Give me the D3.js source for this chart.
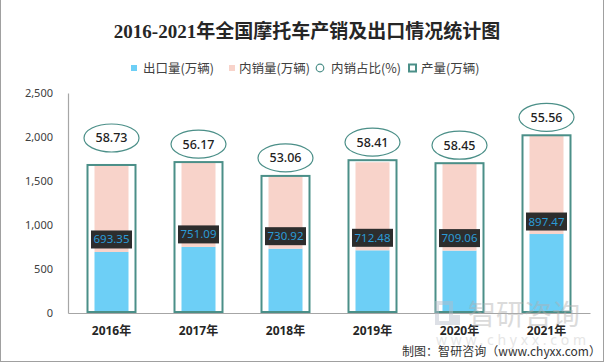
<!DOCTYPE html>
<html><head><meta charset="utf-8">
<script src="https://cdn.jsdelivr.net/npm/d3@7"></script>
<style>
html,body{margin:0;padding:0;background:#fff;}
svg{display:block;}
</style>
</head><body>
<div id="chart"></div>
<script>
const years = ["2016年","2017年","2018年","2019年","2020年","2021年"];
const exportVals = [693.35, 751.09, 730.92, 712.48, 709.06, 897.47];
const domesticVals = [986.69, 962.47, 826.13, 1000.60, 997.66, 1122.06];
const domesticShare = [58.73, 56.17, 53.06, 58.41, 58.45, 55.56];
const productionVals = [1682.07, 1715.00, 1557.75, 1736.50, 1702.35, 2019.47];
const yTicks = [0, 500, 1000, 1500, 2000, 2500];
const legendNames = ["出口量(万辆)", "内销量(万辆)", "内销占比(%)", "产量(万辆)"];

const W = 605, H = 364;
const C = {blue:"#6dcff6", pink:"#f8d3ca", teal:"#4b8f88", axis:"#a6a6a6", text:"#404040"};
const svg = d3.select("#chart").append("svg").attr("width", W).attr("height", H);

// frame
svg.append("rect").attr("x",0.5).attr("y",-2).attr("width",W-2).attr("height",H-0.5)
  .attr("fill","none").attr("stroke","#a0a0a0").attr("stroke-width",1);

// title
svg.append("text").attr("x",307).attr("y",38).attr("text-anchor","middle")
  .attr("font-family","'Liberation Serif','Noto Sans CJK SC',serif").attr("font-weight","bold")
  .attr("font-size",19).attr("fill","#262626").text("2016-2021年全国摩托车产销及出口情况统计图");

const x = d3.scaleBand().domain(years).range([68, 590]).padding(0);
const y = d3.scaleLinear().domain([0, 2500]).range([313, 93]);

// axes
const yAxis = d3.axisLeft(y).tickValues(yTicks).tickSize(0).tickPadding(15).tickFormat(d3.format(","));
const gy = svg.append("g").attr("transform","translate(68,0)").call(yAxis);
gy.select(".domain").attr("stroke",C.axis).attr("stroke-width",1.2);
gy.selectAll("text").attr("font-family","'Noto Sans',sans-serif").attr("font-size",11).attr("fill",C.text);

const xAxis = d3.axisBottom(x).tickSize(0).tickPadding(13);
const gx = svg.append("g").attr("transform","translate(0,313)").call(xAxis);
gx.select(".domain").attr("stroke",C.axis).attr("stroke-width",1.2);
gx.selectAll("text").attr("font-family","'Noto Sans','Noto Sans CJK SC',sans-serif").attr("font-weight","bold")
  .attr("font-size",12).attr("fill","#262626");

const outerW = 48, innerW = 34;
const g = svg.append("g");
// stacked bars
years.forEach((yr, i) => {
  const cx = x(yr) + x.bandwidth()/2;
  g.append("rect").attr("x",cx-innerW/2).attr("y",y(exportVals[i])).attr("width",innerW)
    .attr("height",y(0)-y(exportVals[i])).attr("fill",C.blue);
  g.append("rect").attr("x",cx-innerW/2).attr("y",y(exportVals[i]+domesticVals[i])).attr("width",innerW)
    .attr("height",y(exportVals[i])-y(exportVals[i]+domesticVals[i])).attr("fill",C.pink);
  g.append("rect").attr("x",cx-outerW/2).attr("y",y(productionVals[i])).attr("width",outerW)
    .attr("height",y(0)-y(productionVals[i])-1).attr("fill","none").attr("stroke",C.teal).attr("stroke-width",2);
});

// export labels
years.forEach((yr, i) => {
  const cx = x(yr) + x.bandwidth()/2;
  const by = y(exportVals[i]) - 3.5;
  g.append("rect").attr("x",cx-20.5).attr("y",by-18).attr("width",41).attr("height",18).attr("fill","#2d2d2d");
  g.append("text").attr("x",cx).attr("y",by-5).attr("text-anchor","middle")
    .attr("font-family","'Noto Sans',sans-serif").attr("font-size",11.5).attr("fill","#2b9bd6")
    .text(exportVals[i].toFixed(2));
});

// share labels (ellipses)
years.forEach((yr, i) => {
  const cx = x(yr) + x.bandwidth()/2;
  const lift = i === 0 ? 27 : 18;
  const cy = y(productionVals[i]) - lift;
  g.append("ellipse").attr("cx",cx).attr("cy",cy).attr("rx",27.5).attr("ry",14)
    .attr("fill","#fff").attr("stroke",C.teal).attr("stroke-width",1.2);
  g.append("text").attr("x",cx).attr("y",cy+4.5).attr("text-anchor","middle")
    .attr("font-family","'Noto Sans',sans-serif").attr("font-size",12.5).attr("font-weight",500).attr("fill","#222")
    .text(domesticShare[i].toFixed(2));
});

// watermark (semi-transparent, on top like the reference)
const wm = svg.append("g").attr("opacity",0.45);
wm.append("rect").attr("x",437).attr("y",303).attr("width",14).attr("height",20).attr("fill","none").attr("stroke","#b5bcc8").attr("stroke-width",4);
wm.append("rect").attr("x",452).attr("y",315).attr("width",8).attr("height",10).attr("fill","#b5bcc8");
wm.append("text").attr("x",468).attr("y",325).attr("font-family","'Noto Sans CJK SC'").attr("font-size",28)
  .attr("fill","#b0b0b0").text("智研咨询");
wm.append("text").attr("x",436).attr("y",345).attr("font-family","'Noto Sans',sans-serif").attr("font-size",14)
  .attr("fill","#c8c8c8").attr("textLength",150).text("www.chyxx.com");

// legend
const lg = svg.append("g").attr("font-family","'Noto Sans CJK SC',sans-serif").attr("font-size",12.5).attr("fill",C.text);
const ly = 68;
lg.append("rect").attr("x",131).attr("y",ly-3).attr("width",6).attr("height",6).attr("fill",C.blue);
lg.append("text").attr("x",143).attr("y",ly+4.5).text(legendNames[0]);
lg.append("rect").attr("x",229).attr("y",ly-3).attr("width",6).attr("height",6).attr("fill",C.pink);
lg.append("text").attr("x",239).attr("y",ly+4.5).text(legendNames[1]);
lg.append("circle").attr("cx",320).attr("cy",ly).attr("r",3.8).attr("fill","#fff").attr("stroke",C.teal).attr("stroke-width",1.2);
lg.append("text").attr("x",331).attr("y",ly+4.5).text(legendNames[2]);
lg.append("rect").attr("x",409).attr("y",ly-3.5).attr("width",7).attr("height",7).attr("fill","#fff").attr("stroke",C.teal).attr("stroke-width",2);
lg.append("text").attr("x",421).attr("y",ly+4.5).text(legendNames[3]);

// source
svg.append("text").attr("x",402).attr("y",356).attr("font-family","'Noto Sans CJK SC',sans-serif")
  .attr("font-size",12).attr("fill","#333").attr("textLength",199).text("制图：智研咨询（www.chyxx.com）");
</script>
</body></html>
